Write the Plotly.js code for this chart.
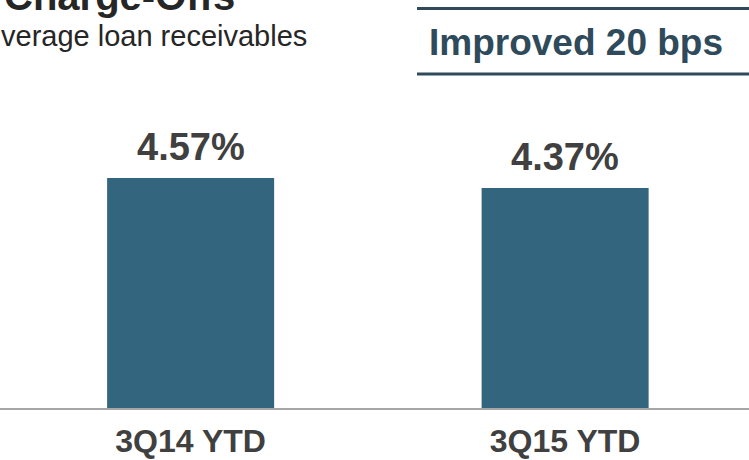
<!DOCTYPE html>
<html>
<head>
<meta charset="utf-8">
<script src="https://cdn.plot.ly/plotly-3.0.1.min.js"></script>
<style>html,body{margin:0;padding:0;background:#fff;}#chart{width:749px;height:460px;}</style>
</head>
<body>
<div id="chart"></div>
<script>
// Data
const categories = ["3Q14 YTD", "3Q15 YTD"];
const values = [4.57, 4.37];
const valueLabels = ["4.57%", "4.37%"];
const titleText = "Charge-Offs";
const subtitleText = "verage loan receivables";
const calloutText = "Improved 20 bps";

const W = 749, H = 460;
const mT = 106, mB = 52;
const plotH = H - mT - mB;
function py(pix) { return (H - mB - pix) / plotH; } // pixel y -> paper y
function px(pix) { return pix / W; }

const FONT = "Liberation Sans, Arial, sans-serif";
const barColor = "#34657F";
const darkText = "#404040";
const calloutColor = "#2E4A5B";

const annotations = categories.map((c, i) => ({
  x: c, y: values[i], xref: "x", yref: "y",
  text: "<b>" + valueLabels[i] + "</b>",
  showarrow: false, yanchor: "bottom", xanchor: "center", yshift: 8,
  font: {family: FONT, size: 38, color: darkText}
}));

annotations.push(
  {x: px(2), y: py(-4), xref: "paper", yref: "paper", xanchor: "left", yanchor: "middle",
   text: "<b>" + titleText + "</b>", showarrow: false,
   font: {family: FONT, size: 40, color: "#262626"}},
  {x: px(-1), y: py(36), xref: "paper", yref: "paper", xanchor: "left", yanchor: "middle",
   text: subtitleText, showarrow: false,
   font: {family: FONT, size: 29, color: "#262626"}},
  {x: px(575.5), y: py(42.5), xref: "paper", yref: "paper", xanchor: "center", yanchor: "middle",
   text: "<b>" + calloutText + "</b>", showarrow: false,
   font: {family: FONT, size: 37, color: calloutColor}}
);

const shapes = [
  {type: "line", xref: "paper", yref: "paper", x0: px(417), x1: px(749), y0: py(8.5), y1: py(8.5),
   line: {color: calloutColor, width: 3}},
  {type: "line", xref: "paper", yref: "paper", x0: px(417), x1: px(749), y0: py(74), y1: py(74),
   line: {color: calloutColor, width: 3}}
];

const trace = {
  type: "bar", x: categories, y: values,
  marker: {color: barColor, line: {width: 0}},
  width: 0.446, hoverinfo: "none"
};

const layout = {
  width: W, height: H,
  margin: {l: 0, r: 0, t: mT, b: mB, pad: 0},
  paper_bgcolor: "#fff", plot_bgcolor: "#fff",
  showlegend: false,
  xaxis: {
    type: "category", range: [-0.509, 1.491], fixedrange: true,
    showline: true, linecolor: "#A6A6A6", linewidth: 2,
    showgrid: false, zeroline: false, ticks: "",
    ticklabelstandoff: 4,
    tickfont: {family: FONT, size: 32, color: darkText, weight: "bold"}
  },
  yaxis: {visible: false, range: [0, 6], fixedrange: true, showgrid: false, zeroline: false},
  annotations: annotations,
  shapes: shapes
};

Plotly.newPlot("chart", [trace], layout, {displayModeBar: false, staticPlot: true});
</script>
</body>
</html>
